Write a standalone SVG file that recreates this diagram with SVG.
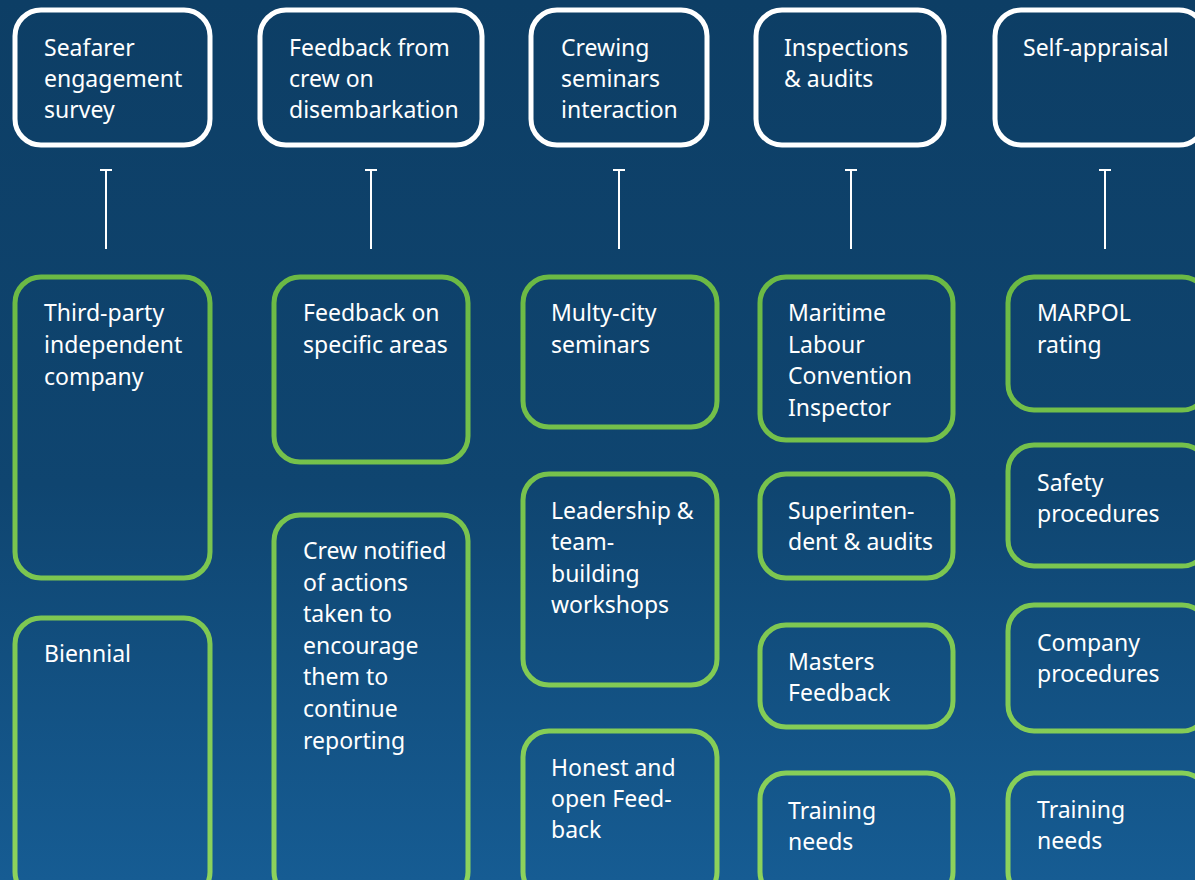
<svg xmlns="http://www.w3.org/2000/svg" width="1195" height="880" viewBox="0 0 1195 880">
<defs>
<linearGradient id="bg" x1="0" y1="0" x2="0" y2="880" gradientUnits="userSpaceOnUse">
<stop offset="0" stop-color="#0d3e65"/>
<stop offset="0.55" stop-color="#0f4570"/>
<stop offset="1" stop-color="#165c93"/>
</linearGradient>
<linearGradient id="gr" x1="0" y1="270" x2="0" y2="880" gradientUnits="userSpaceOnUse">
<stop offset="0" stop-color="#6bb944"/>
<stop offset="1" stop-color="#8dd35c"/>
</linearGradient>
<style>
.top{fill:none;stroke:#ffffff;stroke-width:5}
.g{fill:none;stroke:url(#gr);stroke-width:5}
text{font-family:"Noto Sans",Roboto,sans-serif;font-size:23px;fill:#ffffff}
.c line{stroke:#ffffff;stroke-width:2}
</style>
</defs>
<rect width="1195" height="880" fill="url(#bg)"/>

<g id="t1"><rect class="top" x="15" y="10" width="195" height="135" rx="26"/>
<text x="44" y="56">Seafarer</text><text x="44" y="87">engagement</text><text x="44" y="118">survey</text></g>
<g id="t2"><rect class="top" x="260" y="10" width="222" height="135" rx="26"/>
<text x="289" y="56">Feedback from</text><text x="289" y="87">crew on</text><text x="289" y="118">disembarkation</text></g>
<g id="t3"><rect class="top" x="531" y="10" width="176" height="135" rx="26"/>
<text x="561" y="56">Crewing</text><text x="561" y="87">seminars</text><text x="561" y="118">interaction</text></g>
<g id="t4"><rect class="top" x="756" y="10" width="188" height="135" rx="26"/>
<text x="784" y="56">Inspections</text><text x="784" y="87">&amp; audits</text></g>
<g id="t5"><rect class="top" x="995" y="10" width="210" height="135" rx="26"/>
<text x="1023" y="56">Self-appraisal</text></g>

<g id="connectors" class="c">
<line x1="106" y1="170" x2="106" y2="249"/><line x1="100" y1="170" x2="112" y2="170"/>
<line x1="371" y1="170" x2="371" y2="249"/><line x1="365" y1="170" x2="377" y2="170"/>
<line x1="619" y1="170" x2="619" y2="249"/><line x1="613" y1="170" x2="625" y2="170"/>
<line x1="851" y1="170" x2="851" y2="249"/><line x1="845" y1="170" x2="857" y2="170"/>
<line x1="1105" y1="170" x2="1105" y2="249"/><line x1="1099" y1="170" x2="1111" y2="170"/>
</g>

<g id="c1a"><rect class="g" x="15" y="277" width="195" height="301" rx="26"/>
<text x="44" y="321">Third-party</text><text x="44" y="353">independent</text><text x="44" y="385">company</text></g>
<g id="c1b"><rect class="g" x="15" y="618" width="195" height="280" rx="26"/>
<text x="44" y="662">Biennial</text></g>

<g id="c2a"><rect class="g" x="274" y="277" width="194" height="185" rx="26"/>
<text x="303" y="321">Feedback on</text><text x="303" y="353">specific areas</text></g>
<g id="c2b"><rect class="g" x="274" y="515" width="194" height="383" rx="26"/>
<text x="303" y="559">Crew notified</text><text x="303" y="591">of actions</text><text x="303" y="622">taken to</text><text x="303" y="654">encourage</text><text x="303" y="685">them to</text><text x="303" y="717">continue</text><text x="303" y="749">reporting</text></g>

<g id="c3a"><rect class="g" x="523" y="277" width="194" height="150" rx="26"/>
<text x="551" y="321">Multy-city</text><text x="551" y="353">seminars</text></g>
<g id="c3b"><rect class="g" x="523" y="474" width="194" height="211" rx="26"/>
<text x="551" y="519">Leadership &amp;</text><text x="551" y="550">team-</text><text x="551" y="582">building</text><text x="551" y="613">workshops</text></g>
<g id="c3c"><rect class="g" x="523" y="731" width="194" height="167" rx="26"/>
<text x="551" y="776">Honest and</text><text x="551" y="807">open Feed-</text><text x="551" y="838">back</text></g>

<g id="c4a"><rect class="g" x="760" y="277" width="193" height="163" rx="26"/>
<text x="788" y="321">Maritime</text><text x="788" y="353">Labour</text><text x="788" y="384">Convention</text><text x="788" y="416">Inspector</text></g>
<g id="c4b"><rect class="g" x="760" y="474" width="193" height="104" rx="26"/>
<text x="788" y="519">Superinten-</text><text x="788" y="550">dent &amp; audits</text></g>
<g id="c4c"><rect class="g" x="760" y="625" width="193" height="102" rx="26"/>
<text x="788" y="670">Masters</text><text x="788" y="701">Feedback</text></g>
<g id="c4d"><rect class="g" x="760" y="773" width="193" height="125" rx="26"/>
<text x="788" y="819">Training</text><text x="788" y="850">needs</text></g>

<g id="c5a"><rect class="g" x="1008" y="277" width="200" height="133" rx="26"/>
<text x="1037" y="321">MARPOL</text><text x="1037" y="353">rating</text></g>
<g id="c5b"><rect class="g" x="1008" y="445" width="200" height="121" rx="26"/>
<text x="1037" y="491">Safety</text><text x="1037" y="522">procedures</text></g>
<g id="c5c"><rect class="g" x="1008" y="605" width="200" height="126" rx="26"/>
<text x="1037" y="651">Company</text><text x="1037" y="682">procedures</text></g>
<g id="c5d"><rect class="g" x="1008" y="773" width="200" height="125" rx="26"/>
<text x="1037" y="818">Training</text><text x="1037" y="849">needs</text></g>
</svg>
